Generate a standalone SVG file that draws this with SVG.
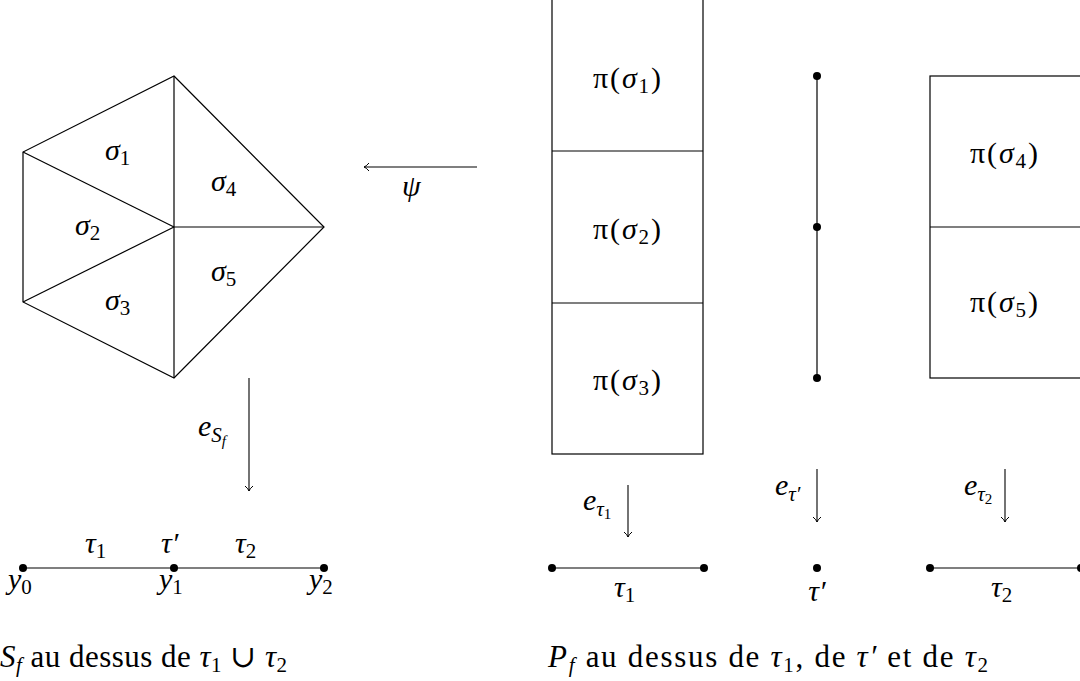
<svg xmlns="http://www.w3.org/2000/svg" width="1080" height="681" viewBox="0 0 1080 681">
<style>
text{font-family:"Liberation Serif","DejaVu Serif",serif;font-size:30px;fill:#000}
.m{font-style:italic}
.s{font-size:21px}
.ss{font-size:15px}
.cap{font-size:31px}
.cap .s{font-size:21px}
.ln{stroke:#000;stroke-width:1.2;fill:none}
.seg{stroke:#555;stroke-width:1.6;fill:none}
.ar{stroke:#000;stroke-width:1.1;fill:none;marker-end:url(#ah)}
</style>
<defs>
<marker id="ah" viewBox="-6 -5 8 10" markerWidth="8" markerHeight="10" refX="0" refY="0" orient="auto" markerUnits="userSpaceOnUse">
<path d="M-5,-4 Q-2,-0.5 0,0 Q-2,0.5 -5,4" fill="none" stroke="#000" stroke-width="1"/>
</marker>
</defs>
<rect width="1080" height="681" fill="#fff"/>

<g id="pentagon">
<polygon class="ln" points="174,76 324,227 174,378 23,302 23,152"/>
<line class="ln" x1="174" y1="76" x2="174" y2="378"/>
<line class="ln" x1="23" y1="152" x2="174" y2="227"/>
<line class="ln" x1="23" y1="302" x2="174" y2="227"/>
<line class="ln" x1="174" y1="227" x2="324" y2="227"/>
<text x="105" y="160"><tspan class="m">σ</tspan><tspan class="s" dy="5">1</tspan></text>
<text x="211" y="191"><tspan class="m">σ</tspan><tspan class="s" dy="5">4</tspan></text>
<text x="75" y="235"><tspan class="m">σ</tspan><tspan class="s" dy="5">2</tspan></text>
<text x="211" y="281"><tspan class="m">σ</tspan><tspan class="s" dy="5">5</tspan></text>
<text x="105" y="310"><tspan class="m">σ</tspan><tspan class="s" dy="5">3</tspan></text>
</g>

<g id="base-left">
<line class="seg" x1="23" y1="568" x2="324" y2="568"/>
<circle cx="23" cy="568" r="4"/>
<circle cx="174" cy="568" r="4"/>
<circle cx="324" cy="568" r="4"/>
<text x="85" y="553"><tspan class="m">τ</tspan><tspan class="s" dy="5">1</tspan></text>
<text x="161" y="553"><tspan class="m">τ′</tspan></text>
<text x="235" y="553"><tspan class="m">τ</tspan><tspan class="s" dy="5">2</tspan></text>
<text x="8" y="589"><tspan class="m">y</tspan><tspan class="s" dy="5">0</tspan></text>
<text x="159" y="589"><tspan class="m">y</tspan><tspan class="s" dy="5">1</tspan></text>
<text x="309" y="589"><tspan class="m">y</tspan><tspan class="s" dy="5">2</tspan></text>
</g>

<g id="caption-left">
<text class="cap" x="0" y="667" textLength="287" lengthAdjust="spacing"><tspan class="m">S</tspan><tspan class="s m" dy="5">f</tspan><tspan dy="-5"> au dessus de </tspan><tspan class="m">τ</tspan><tspan class="s" dy="5">1</tspan><tspan dy="-5"> ∪ </tspan><tspan class="m">τ</tspan><tspan class="s" dy="5">2</tspan></text>
</g>

<g id="column-1">
<rect class="ln" x="552" y="-2" width="151" height="456"/>
<line class="ln" x1="552" y1="151" x2="703" y2="151"/>
<line class="ln" x1="552" y1="303" x2="703" y2="303"/>
<text x="593" y="88" textLength="68" lengthAdjust="spacing">π(<tspan class="m">σ</tspan><tspan class="s" dy="5">1</tspan><tspan dy="-5">)</tspan></text>
<text x="593" y="239" textLength="68" lengthAdjust="spacing">π(<tspan class="m">σ</tspan><tspan class="s" dy="5">2</tspan><tspan dy="-5">)</tspan></text>
<text x="593" y="390" textLength="68" lengthAdjust="spacing">π(<tspan class="m">σ</tspan><tspan class="s" dy="5">3</tspan><tspan dy="-5">)</tspan></text>
</g>

<g id="column-2">
<line class="ln" x1="817" y1="76" x2="817" y2="378"/>
<circle cx="817" cy="76" r="4"/>
<circle cx="817" cy="227" r="4"/>
<circle cx="817" cy="378" r="4"/>
</g>

<g id="column-3">
<rect class="ln" x="930" y="76" width="152" height="302"/>
<line class="ln" x1="930" y1="227" x2="1082" y2="227"/>
<text x="970" y="163" textLength="68" lengthAdjust="spacing">π(<tspan class="m">σ</tspan><tspan class="s" dy="5">4</tspan><tspan dy="-5">)</tspan></text>
<text x="970" y="312" textLength="68" lengthAdjust="spacing">π(<tspan class="m">σ</tspan><tspan class="s" dy="5">5</tspan><tspan dy="-5">)</tspan></text>
</g>

<g id="base-right">
<line class="seg" x1="552" y1="568" x2="704" y2="568"/>
<circle cx="552" cy="568" r="4"/>
<circle cx="704" cy="568" r="4"/>
<circle cx="817" cy="568" r="4"/>
<line class="seg" x1="930" y1="568" x2="1080" y2="568"/>
<circle cx="930" cy="568" r="4"/>
<circle cx="1081" cy="568" r="4"/>
<text x="614" y="597"><tspan class="m">τ</tspan><tspan class="s" dy="5">1</tspan></text>
<text x="817" y="601" text-anchor="middle" class="m">τ′</text>
<text x="991" y="597"><tspan class="m">τ</tspan><tspan class="s" dy="5">2</tspan></text>
</g>

<g id="caption-right">
<text class="cap" x="548" y="667" textLength="440" lengthAdjust="spacing"><tspan class="m">P</tspan><tspan class="s m" dy="5">f</tspan><tspan dy="-5"> au dessus de </tspan><tspan class="m">τ</tspan><tspan class="s" dy="5">1</tspan><tspan dy="-5">, de </tspan><tspan class="m">τ′</tspan> et de <tspan class="m">τ</tspan><tspan class="s" dy="5">2</tspan></text>
</g>

<g id="connectors">
<line class="ar" x1="477" y1="167" x2="364" y2="167"/>
<line class="ar" x1="249" y1="378" x2="249" y2="491"/>
<line class="ar" x1="628" y1="485" x2="628" y2="537"/>
<line class="ar" x1="817" y1="469" x2="817" y2="522"/>
<line class="ar" x1="1005" y1="469" x2="1005" y2="522"/>
<text x="402" y="196" class="m">ψ</text>
<text x="198" y="436"><tspan class="m">e</tspan><tspan class="s m" dy="6">S</tspan><tspan class="ss m" dy="4">f</tspan></text>
<text x="583" y="510"><tspan class="m">e</tspan><tspan class="s m" dy="6">τ</tspan><tspan class="ss" dy="3">1</tspan></text>
<text x="775" y="495"><tspan class="m">e</tspan><tspan class="s m" dy="6">τ′</tspan></text>
<text x="964" y="495"><tspan class="m">e</tspan><tspan class="s m" dy="6">τ</tspan><tspan class="ss" dy="3">2</tspan></text>
</g>
</svg>
